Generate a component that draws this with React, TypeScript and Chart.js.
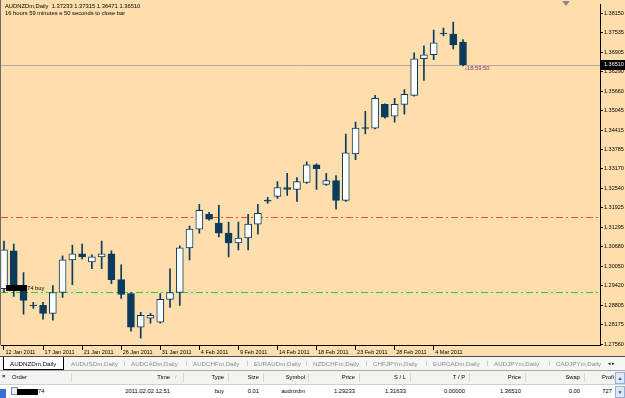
import React, { useEffect, useRef } from 'react';
import { Chart, registerables } from 'chart.js';
Chart.register(...registerables);

// ---------- data ----------
const TITLE_LINE = 'AUDNZDm,Daily  1.37233 1.37315 1.36471 1.36510';
const TIMER_LINE = '16 hours 59 minutes e 50 seconds to close bar';
const BAR_TIMER = '\u203918:59:50';
const ORDER_LABEL = '74 buy';

const opens = [1.29337, 1.30544, 1.29274, 1.28810, 1.28798, 1.28544, 1.29211, 1.30258, 1.30448, 1.30194, 1.30353, 1.30448, 1.29623, 1.29179, 1.28100, 1.28385, 1.28258, 1.28988, 1.29211, 1.30639, 1.31242, 1.31718, 1.31432, 1.31115, 1.30798, 1.30956, 1.31400, 1.32170, 1.32289, 1.32575, 1.32511, 1.32734, 1.33305, 1.32670, 1.32797, 1.32162, 1.33654, 1.34495, 1.34479, 1.35241, 1.34860, 1.35241, 1.35527, 1.36701, 1.36828, 1.37526, 1.37495, 1.37233];
const highs = [1.30861, 1.30766, 1.29845, 1.28893, 1.28893, 1.29433, 1.30385, 1.30734, 1.30766, 1.30417, 1.30861, 1.30544, 1.30099, 1.29211, 1.28576, 1.28544, 1.29179, 1.29972, 1.30702, 1.31337, 1.32035, 1.31782, 1.32004, 1.31464, 1.31464, 1.31718, 1.32035, 1.32258, 1.32765, 1.33028, 1.32892, 1.33400, 1.33330, 1.33028, 1.32956, 1.34289, 1.34670, 1.35019, 1.35527, 1.35260, 1.35432, 1.35717, 1.36892, 1.37114, 1.37622, 1.37685, 1.37876, 1.37315];
const lows = [1.29211, 1.29084, 1.28512, 1.28703, 1.28354, 1.28322, 1.29052, 1.29464, 1.30290, 1.29972, 1.29972, 1.29496, 1.29020, 1.27973, 1.27750, 1.28227, 1.28227, 1.28734, 1.28798, 1.30258, 1.31115, 1.31527, 1.30988, 1.30353, 1.30575, 1.30575, 1.31083, 1.32067, 1.32226, 1.32321, 1.32131, 1.32702, 1.32511, 1.32638, 1.31877, 1.32130, 1.33464, 1.34289, 1.34450, 1.34800, 1.34670, 1.34924, 1.35500, 1.36003, 1.36669, 1.37431, 1.37019, 1.36471];
const closes = [1.30575, 1.29306, 1.28957, 1.28780, 1.28544, 1.29211, 1.30258, 1.30448, 1.30353, 1.30353, 1.30448, 1.29623, 1.29147, 1.28100, 1.28481, 1.28481, 1.28988, 1.29211, 1.30639, 1.31242, 1.31845, 1.31559, 1.31115, 1.30798, 1.30956, 1.31400, 1.31750, 1.32140, 1.32575, 1.32511, 1.32765, 1.33305, 1.33178, 1.32797, 1.32162, 1.33686, 1.34479, 1.34465, 1.35432, 1.34829, 1.35241, 1.35559, 1.36701, 1.36828, 1.37209, 1.37495, 1.37146, 1.36510];

const dateTickBars = [0, 4, 8, 12, 16, 20, 24, 28, 32, 36, 40, 44];
const dateTickLabels = ['12 Jan 2011', '17 Jan 2011', '21 Jan 2011', '26 Jan 2011', '31 Jan 2011', '4 Feb 2011', '9 Feb 2011', '14 Feb 2011', '18 Feb 2011', '23 Feb 2011', '28 Feb 2011', '4 Mar 2011'];
const priceTicks = [1.38150, 1.37535, 1.36905, 1.36290, 1.35660, 1.35045, 1.34415, 1.33785, 1.33170, 1.32540, 1.31925, 1.31295, 1.30680, 1.30050, 1.29420, 1.28805, 1.28175, 1.27560];

const BID = 1.36510;
const STOP_LOSS = 1.31633;
const OPEN_PRICE = 1.29233;

const tabs = ['AUDNZDm,Daily', 'AUDUSDm,Daily', 'AUDCADm,Daily', 'AUDCHFm,Daily', 'EURAUDm,Daily', 'NZDCHFm,Daily', 'CHFJPYm,Daily', 'EURCADm,Daily', 'AUDJPYm,Daily', 'CADJPYm,Daily'];
const tabLefts = [3, 71, 131, 193, 254, 313, 373, 433, 494, 556];
const headers = ['Time', 'Type', 'Size', 'Symbol', 'Price', 'S / L', 'T / P', 'Price', 'Swap', 'Profit'];
const rowValues = ['2011.02.02 12:51', 'buy', '0.01', 'audnzdm', '1.29233', '1.31633', '0.00000', '1.36510', '0.00', '727'];
const colRights = [170, 224, 259, 305, 355, 406, 465, 521, 580, 624];

// ---------- style ----------
const BG = '#FFDEAD';
const DARK = '#0a3a5c';
const FONT = '"Liberation Sans", Arial, Helvetica, sans-serif';
const Y_MIN = 1.27528;
const Y_MAX = 1.38446;
const X_MIN = -0.307;
const X_MAX = 61.03;

const decor = {
  id: 'decor',
  beforeDraw(chart: any) {
    const { ctx, width, height } = chart;
    ctx.save();
    ctx.fillStyle = BG;
    ctx.fillRect(0, 0, width, height);
    ctx.restore();
  },
  beforeDatasetsDraw(chart: any) {
    const { ctx, chartArea: a, scales } = chart;
    const y = scales.y;
    const hline = (v: number, color: string, dash: number[]) => {
      const py = Math.round(y.getPixelForValue(v)) + 0.5;
      ctx.save();
      ctx.strokeStyle = color;
      ctx.lineWidth = 1;
      ctx.setLineDash(dash);
      ctx.beginPath();
      ctx.moveTo(a.left, py);
      ctx.lineTo(a.right, py);
      ctx.stroke();
      ctx.restore();
    };
    hline(BID, '#b4aca0', []);
    hline(STOP_LOSS, '#ff4a2a', [7, 3, 2, 3]);
    hline(OPEN_PRICE, '#2fcf2f', [7, 3, 2, 3]);
  },
  afterDraw(chart: any) {
    const { ctx, chartArea: a, scales } = chart;
    const y = scales.y;
    const x = scales.x;
    ctx.save();
    // left frame
    ctx.strokeStyle = '#6a6a6a';
    ctx.lineWidth = 1;
    ctx.beginPath();
    ctx.moveTo(0.5, 0);
    ctx.lineTo(0.5, a.bottom);
    ctx.stroke();
    // title
    ctx.fillStyle = '#000';
    ctx.font = `5.8px ${FONT}`;
    ctx.textBaseline = 'middle';
    ctx.textAlign = 'left';
    ctx.fillText(TITLE_LINE, 5, 6);
    ctx.fillText(TIMER_LINE, 5, 13);
    // bar timer
    const bidY = y.getPixelForValue(BID);
    ctx.fillStyle = '#8a2a8a';
    ctx.fillText(BAR_TIMER, x.getPixelForValue(opens.length - 1) + 2, bidY + 4);
    // order label
    const opY = Math.round(y.getPixelForValue(OPEN_PRICE));
    ctx.fillStyle = '#000';
    ctx.fillRect(6, opY - 7, 21, 6);
    ctx.fillText(ORDER_LABEL, 27, opY - 4);
    // price label on axis
    ctx.fillRect(a.right + 1, Math.round(bidY) - 5, 24, 10);
    ctx.fillStyle = '#fff';
    ctx.font = `5.5px ${FONT}`;
    ctx.fillText(BID.toFixed(5), a.right + 4, bidY);
    // shift marker
    ctx.fillStyle = '#8c8c8c';
    ctx.beginPath();
    ctx.moveTo(562, 1);
    ctx.lineTo(570, 1);
    ctx.lineTo(566, 6);
    ctx.closePath();
    ctx.fill();
    ctx.restore();
  },
};

function CandleChart() {
  const ref = useRef<HTMLCanvasElement | null>(null);
  useEffect(() => {
    if (!ref.current) return;
    const idx = opens.map((_, i) => i);
    const chart = new Chart(ref.current, {
      type: 'bar',
      data: {
        datasets: [
          {
            label: 'wick',
            data: idx.map((i) => ({ x: i, y: [lows[i], highs[i]] })) as any,
            backgroundColor: DARK,
            borderWidth: 0,
            barThickness: 1,
            grouped: false,
            order: 2,
          } as any,
          {
            label: 'body',
            data: idx.map((i) => ({ x: i, y: [opens[i], closes[i]] })) as any,
            backgroundColor: idx.map((i) => (closes[i] >= opens[i] ? '#ffffff' : DARK)),
            borderColor: DARK,
            borderWidth: 1,
            borderSkipped: false,
            barThickness: 7,
            grouped: false,
            order: 1,
          } as any,
        ],
      },
      options: {
        animation: false,
        responsive: false,
        maintainAspectRatio: false,
        layout: { padding: { left: 1, top: 1, right: 0, bottom: 0 } },
        plugins: { legend: { display: false }, tooltip: { enabled: false } },
        scales: {
          x: {
            type: 'linear',
            position: 'bottom',
            offset: false,
            min: X_MIN,
            max: X_MAX,
            afterBuildTicks: (s: any) => {
              s.ticks = dateTickBars.map((v) => ({ value: v }));
            },
            afterFit: (s: any) => {
              s.height = 12;
            },
            grid: { display: true, offset: false, drawOnChartArea: false, drawTicks: true, tickLength: 5, color: '#000', lineWidth: 1 },
            border: { display: true, color: '#000', width: 1 },
            ticks: {
              autoSkip: false,
              maxRotation: 0,
              minRotation: 0,
              align: 'start',
              padding: -1,
              color: '#000',
              font: { family: FONT, size: 5.5 },
              callback: (_v: any, i: number) => ' ' + dateTickLabels[i],
            },
          },
          y: {
            type: 'linear',
            position: 'right',
            min: Y_MIN,
            max: Y_MAX,
            afterBuildTicks: (s: any) => {
              s.ticks = priceTicks.map((v) => ({ value: v }));
            },
            afterFit: (s: any) => {
              s.width = 25;
            },
            grid: { display: true, drawOnChartArea: false, drawTicks: true, tickLength: 3, color: '#000', lineWidth: 1 },
            border: { display: true, color: '#000', width: 1 },
            ticks: {
              autoSkip: false,
              padding: 1,
              color: '#000',
              font: { family: FONT, size: 5.5 },
              callback: (v: any) => Number(v).toFixed(5),
            },
          },
        },
      } as any,
      plugins: [decor],
    });
    return () => chart.destroy();
  }, []);
  return <canvas ref={ref} width={625} height={357} style={{ position: 'absolute', left: 0, top: 0, width: 625, height: 357 }} />;
}

const txt = (extra: React.CSSProperties): React.CSSProperties => ({
  position: 'absolute',
  fontFamily: FONT,
  fontSize: 5.8,
  lineHeight: '7px',
  whiteSpace: 'nowrap',
  ...extra,
});

export default function App() {
  return (
    <div style={{ position: 'fixed', left: 0, top: 0, width: 625, height: 398, background: BG, overflow: 'hidden' }}>
      <CandleChart />
      <div style={{ position: 'absolute', left: 0, top: 356, width: 625, height: 1, background: '#505050' }} />
      {/* tab bar */}
      <div style={{ position: 'absolute', left: 0, top: 357, width: 625, height: 13, background: '#f6f6f4' }}>
        <div style={{ position: 'absolute', left: 3, top: 0, width: 59, height: 12, background: '#fff', border: '1px solid #000', borderTop: 'none' }} />
        {tabs.map((t, i) => (
          <span key={t} style={txt({ left: i === 0 ? 10 : tabLefts[i], top: 3, color: i === 0 ? '#000' : '#8a8a8a', fontSize: 6.2 })}>{t}</span>
        ))}
        {tabLefts.slice(2).map((l, i) => (
          <span key={'s' + i} style={txt({ left: l - 7, top: 3, color: '#a0a0a0' })}>|</span>
        ))}
        <span style={txt({ left: 608, top: 3, color: '#000', fontSize: 5 })}>{'\u25C2 \u25B8'}</span>
      </div>
      <div style={{ position: 'absolute', left: 0, top: 370, width: 625, height: 1, background: '#a8a8a8' }} />
      {/* header */}
      <div style={{ position: 'absolute', left: 0, top: 371, width: 625, height: 13, background: '#f3f3f1', borderBottom: '1px solid #d0d0d0' }}>
        <span style={txt({ left: 2, top: 2, color: '#000', fontSize: 6, fontWeight: 'bold' })}>×</span>
        <span style={txt({ left: 12, top: 3, color: '#000' })}>Order</span>
        {headers.map((h, i) => (
          <span key={'h' + i} style={txt({ right: 625 - colRights[i] + (i === headers.length - 1 ? 10 : 0), top: 3, color: '#000', width: i === headers.length - 1 ? 12 : undefined, overflow: 'hidden', textAlign: 'right' })}>{i === headers.length - 1 ? 'Profi' : h}</span>
        ))}
        <span style={txt({ left: 175, top: 3, color: '#a0a0a0' })}>/</span>
        {[71, 183, 228, 263, 308, 359, 410, 469, 525, 584].map((l) => (
          <div key={'c' + l} style={{ position: 'absolute', left: l, top: 2, width: 1, height: 9, background: '#d6d6d6' }} />
        ))}
        <div style={{ position: 'absolute', left: 615, top: 1, width: 8, height: 10, background: '#dfe8f6', border: '1px solid #98b0d8', fontSize: 5, lineHeight: '10px', textAlign: 'center', color: '#2050a0', fontFamily: FONT }}>▲</div>
      </div>
      {/* row */}
      <div style={{ position: 'absolute', left: 0, top: 385, width: 625, height: 13, background: '#ffffff' }}>
        <div style={{ position: 'absolute', left: 0, top: 4, width: 6, height: 9, background: '#3a6ed0' }} />
        <div style={{ position: 'absolute', left: 11, top: 2, width: 5, height: 6, background: '#e8eef8', border: '1px solid #7090b8' }} />
        <div style={{ position: 'absolute', left: 17, top: 4, width: 21, height: 6, background: '#000' }} />
        <span style={txt({ left: 38, top: 3, color: '#000' })}>74</span>
        {rowValues.map((v, i) => (
          <span key={'r' + i} style={txt({ right: 625 - colRights[i] + (i === rowValues.length - 1 ? 12 : 0), top: 3, color: '#000' })}>{v}</span>
        ))}
        <div style={{ position: 'absolute', left: 615, top: 1, width: 8, height: 10, background: '#dfe8f6', border: '1px solid #98b0d8', fontSize: 5, lineHeight: '10px', textAlign: 'center', color: '#2050a0', fontFamily: FONT }}>▼</div>
      </div>
    </div>
  );
}
